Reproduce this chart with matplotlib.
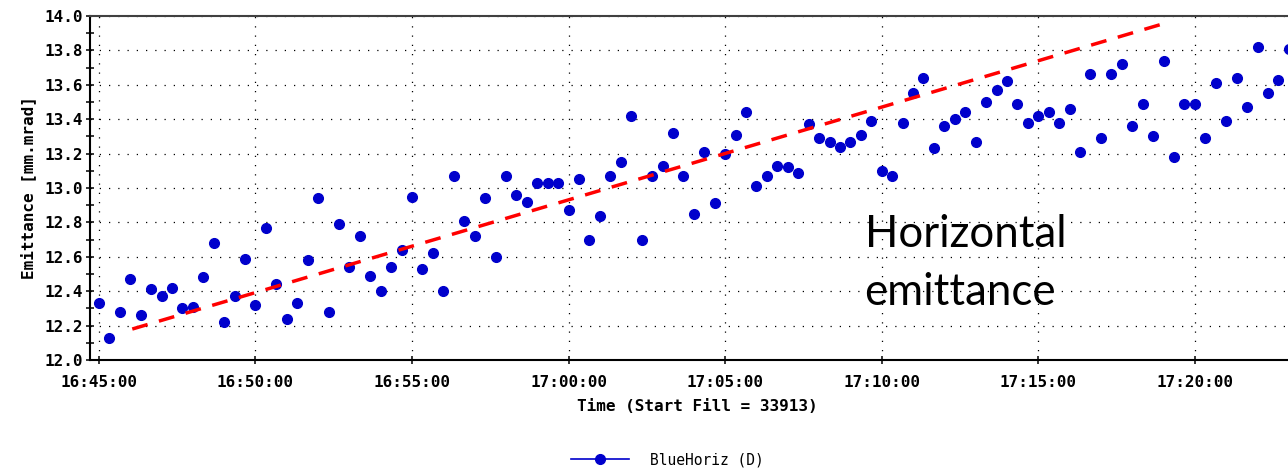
import numpy as np
import pandas as pd
import matplotlib.pyplot as plt
from matplotlib.ticker import MultipleLocator

# Emittance samples, one every 20 s starting at 16:45:00 [mm.mrad]
emittance = [
    12.33, 12.13, 12.28, 12.47, 12.26, 12.41, 12.37, 12.42, 12.30, 12.31,
    12.48, 12.68, 12.22, 12.37, 12.59, 12.32, 12.77, 12.44, 12.24, 12.33,
    12.58, 12.94, 12.28, 12.79, 12.54, 12.72, 12.49, 12.40, 12.54, 12.64,
    12.95, 12.53, 12.62, 12.40, 13.07, 12.81, 12.72, 12.94, 12.60, 13.07,
    12.96, 12.92, 13.03, 13.03, 13.03, 12.87, 13.05, 12.70, 12.84, 13.07,
    13.15, 13.42, 12.70, 13.07, 13.13, 13.32, 13.07, 12.85, 13.21, 12.91,
    13.20, 13.31, 13.44, 13.01, 13.07, 13.13, 13.12, 13.09, 13.37, 13.29,
    13.27, 13.24, 13.27, 13.31, 13.39, 13.10, 13.07, 13.38, 13.55, 13.64,
    13.23, 13.36, 13.40, 13.44, 13.27, 13.50, 13.57, 13.62, 13.49, 13.38,
    13.42, 13.44, 13.38, 13.46, 13.21, 13.66, 13.29, 13.66, 13.72, 13.36,
    13.49, 13.30, 13.74, 13.18, 13.49, 13.49, 13.29, 13.61, 13.39, 13.64,
    13.47, 13.82, 13.55, 13.63, 13.81,
]
start_time = '16:45:00'
sample_step = '20s'

# linear growth guide drawn over the samples
trend_times = ['16:46:04', '17:19:05']
trend_values = [12.18, 13.96]

tick_labels = ['16:45:00', '16:50:00', '16:55:00', '17:00:00',
               '17:05:00', '17:10:00', '17:15:00', '17:20:00']
y_ticks = [12.0, 12.2, 12.4, 12.6, 12.8, 13.0, 13.2, 13.4, 13.6, 13.8, 14.0]
x_range = ['16:44:43', '17:23:31']

note_lines = ['Horizontal', 'emittance']
note_time = '17:09:27'
note_baselines = [12.657, 12.32]


def minutes(t):
    """Time of day -> minutes since midnight."""
    return pd.to_timedelta(t).total_seconds() / 60


t = minutes(pd.timedelta_range(start_time, periods=len(emittance), freq=sample_step))

fig = plt.figure(figsize=(12.88, 4.68), dpi=100)
ax = fig.add_axes([90 / 1288, 1 - 360 / 468, (1305 - 90) / 1288, (360 - 16) / 468])

blue = '#0000cc'
ax.plot(t, emittance, 'o', color=blue, markersize=7.0, label='BlueHoriz (D)', zorder=3)
ax.plot(minutes(trend_times), trend_values, color='#ff0000', linewidth=2.5,
        dashes=(4.6, 3.4), zorder=4)

ax.set_xlim(minutes(x_range))
ax.set_ylim(12.0, 14.0)
ax.set_xticks(minutes(tick_labels))
ax.set_xticklabels(tick_labels)
ax.set_yticks(y_ticks)
ax.set_yticklabels([f'{v:.1f}' for v in y_ticks])
ax.yaxis.set_minor_locator(MultipleLocator(0.1))

mono_bold = dict(family='DejaVu Sans Mono', weight='bold', size=11.5)
for lab in ax.get_xticklabels() + ax.get_yticklabels():
    lab.set_fontproperties(mono_bold)
ax.tick_params(which='both', direction='inout', length=6, width=1.1, color='black')
ax.tick_params(axis='x', pad=8)
ax.tick_params(axis='y', pad=2)

ax.grid(which='major', color='black', linestyle=(0, (1, 6.4)), linewidth=0.9)

for side in ['left', 'bottom']:
    ax.spines[side].set_linewidth(1.5)
    ax.spines[side].set_color('black')
ax.spines['top'].set_linewidth(1.5)
ax.spines['top'].set_color('#404040')

ax.set_xlabel('Time (Start Fill = 33913)', fontdict=mono_bold, labelpad=6)
ax.set_ylabel('Emittance [mm.mrad]', fontdict=mono_bold, labelpad=6)

for line, base in zip(note_lines, note_baselines):
    ax.text(minutes(note_time), base, line, family='Lato', fontsize=31.5,
            va='baseline', ha='left')

leg_handle = ax.plot([], [], '-o', color=blue, markersize=7.0, linewidth=1.2)[0]
fig.legend([leg_handle], ['BlueHoriz (D)'], loc='center',
           bbox_to_anchor=(667 / 1288, 1 - 460 / 468), frameon=False,
           prop=dict(family='DejaVu Sans Mono', size=10.5),
           handlelength=4.0, handletextpad=1.4)

fig.savefig('out.png', dpi=100)
